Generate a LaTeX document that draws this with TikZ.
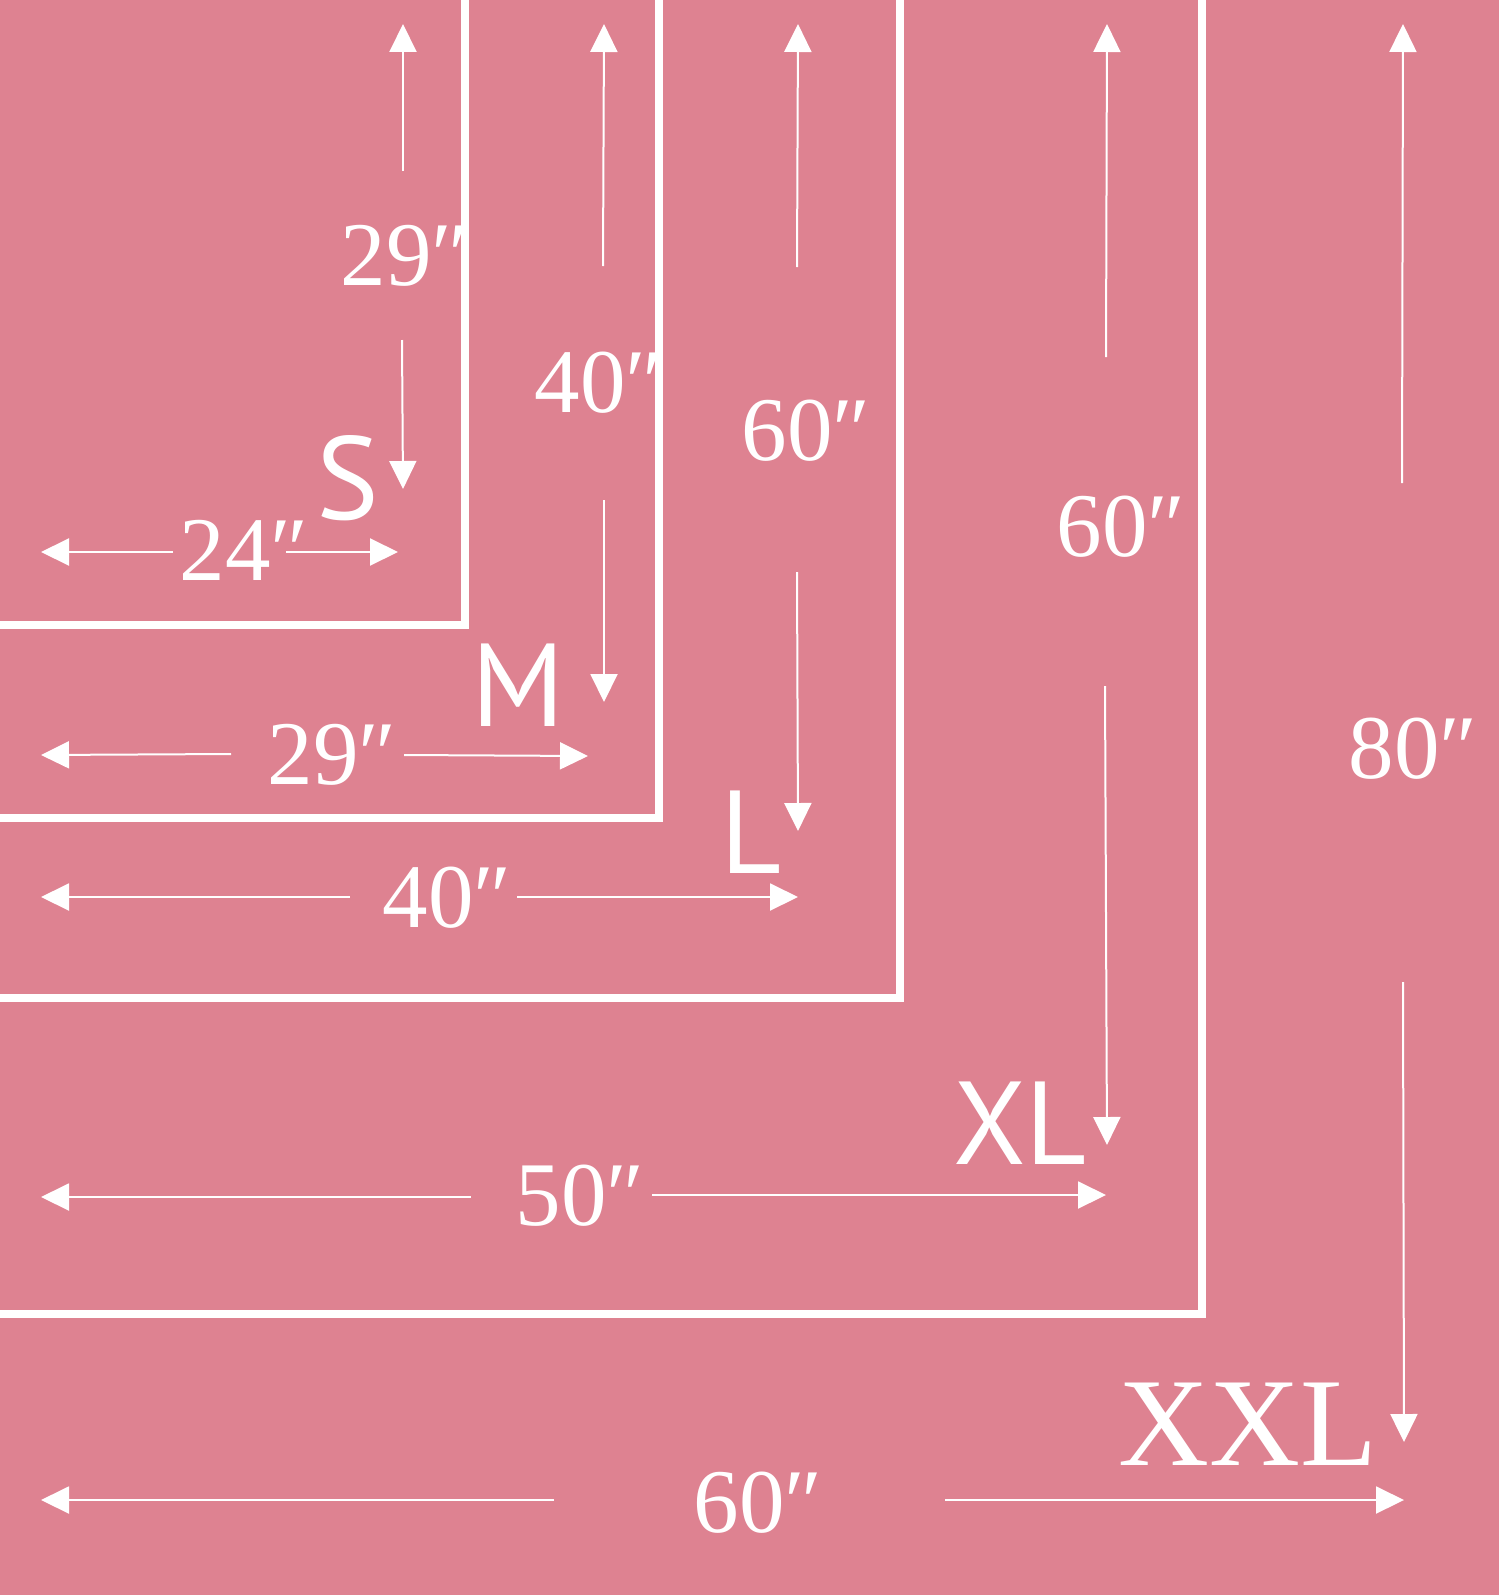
\documentclass[tikz,border=0pt]{standalone}
\usepackage{fontspec}
\setmainfont{Liberation Serif}
\newfontfamily\labelsans{PT Sans}
\usetikzlibrary{arrows.meta}
\definecolor{bgpink}{RGB}{222,130,145}
\begin{document}
\begin{tikzpicture}[x=1pt,y=-1pt,
  frame/.style={draw=white,line width=7.5pt,line join=miter},
  dim/.style={draw=white,line width=2pt,-{Triangle[length=28pt,width=27pt]}},
  num/.style={text=white,inner sep=0pt,anchor=base,font=\fontsize{91}{91}\selectfont},
  sizelbl/.style={text=white,inner sep=0pt,anchor=base,font=\labelsans\fontsize{118}{118}\selectfont},
  bigsizelbl/.style={text=white,inner sep=0pt,anchor=base,font=\fontsize{126}{126}\selectfont}]
\fill[bgpink] (0,0) rectangle (1499,1595);
\useasboundingbox (0,0) rectangle (1499,1595);

% frames
\draw[frame] (465,-5) -- (465,625) -- (-5,625);
\draw[frame] (659,-5) -- (659,818) -- (-5,818);
\draw[frame] (900,-5) -- (900,998) -- (-5,998);
\draw[frame] (1202,-5) -- (1202,1314) -- (-5,1314);

% ---- S ----
\node[num] (s29) at (405,285) {29″};
\node[num] (s24) at (244,580) {24″};
\node[sizelbl] (sS) at (348,519) {S};
\coordinate (sUpA) at (403,171); \coordinate (sUpT) at (403,24);
\coordinate (sDnA) at (402,340); \coordinate (sDnT) at (403,489);
\coordinate (sLA) at (173,552); \coordinate (sLT) at (41,552);
\coordinate (sRA) at (286,552); \coordinate (sRT) at (398,552);
\draw[dim] (sUpA) -- (sUpT);
\draw[dim] (sDnA) -- (sDnT);
\draw[dim] (sLA) -- (sLT);
\draw[dim] (sRA) -- (sRT);

% ---- M ----
\node[num] (m40) at (599,412) {40″};
\node[num] (m29) at (332,784) {29″};
\node[sizelbl] (mM) at (518,726) {M};
\coordinate (mUpA) at (603,266); \coordinate (mUpT) at (604,24);
\coordinate (mDnA) at (604,500); \coordinate (mDnT) at (604,702);
\coordinate (mLA) at (231,754); \coordinate (mLT) at (41,755);
\coordinate (mRA) at (404,755); \coordinate (mRT) at (588,756);
\draw[dim] (mUpA) -- (mUpT);
\draw[dim] (mDnA) -- (mDnT);
\draw[dim] (mLA) -- (mLT);
\draw[dim] (mRA) -- (mRT);

% ---- L ----
\node[num] (l60) at (806,460) {60″};
\node[num] (l40) at (447,927) {40″};
\node[sizelbl] (lL) at (751,873) {L};
\coordinate (lUpA) at (797,267); \coordinate (lUpT) at (798,24);
\coordinate (lDnA) at (797,572); \coordinate (lDnT) at (798,831);
\coordinate (lLA) at (350,897); \coordinate (lLT) at (41,897);
\coordinate (lRA) at (517,897); \coordinate (lRT) at (798,897);
\draw[dim] (lUpA) -- (lUpT);
\draw[dim] (lDnA) -- (lDnT);
\draw[dim] (lLA) -- (lLT);
\draw[dim] (lRA) -- (lRT);

% ---- XL ----
\node[num] (xl60) at (1121,556) {60″};
\node[num] (xl50) at (580,1225) {50″};
\node[sizelbl] (xlXL) at (1020,1164) {XL};
\coordinate (xUpA) at (1106,357); \coordinate (xUpT) at (1107,24);
\coordinate (xDnA) at (1105,686); \coordinate (xDnT) at (1107,1145);
\coordinate (xLA) at (471,1197); \coordinate (xLT) at (41,1197);
\coordinate (xRA) at (652,1195); \coordinate (xRT) at (1106,1195);
\draw[dim] (xUpA) -- (xUpT);
\draw[dim] (xDnA) -- (xDnT);
\draw[dim] (xLA) -- (xLT);
\draw[dim] (xRA) -- (xRT);

% ---- XXL ----
\node[num] (xx80) at (1413,778) {80″};
\node[num] (xx60) at (758,1532) {60″};
\node[bigsizelbl] (xxXXL) at (1248,1465) {XXL};
\coordinate (yUpA) at (1402,483); \coordinate (yUpT) at (1403,24);
\coordinate (yDnA) at (1403,982); \coordinate (yDnT) at (1404,1442);
\coordinate (yLA) at (554,1500); \coordinate (yLT) at (41,1500);
\coordinate (yRA) at (945,1500); \coordinate (yRT) at (1404,1500);
\draw[dim] (yUpA) -- (yUpT);
\draw[dim] (yDnA) -- (yDnT);
\draw[dim] (yLA) -- (yLT);
\draw[dim] (yRA) -- (yRT);
\end{tikzpicture}
\end{document}
